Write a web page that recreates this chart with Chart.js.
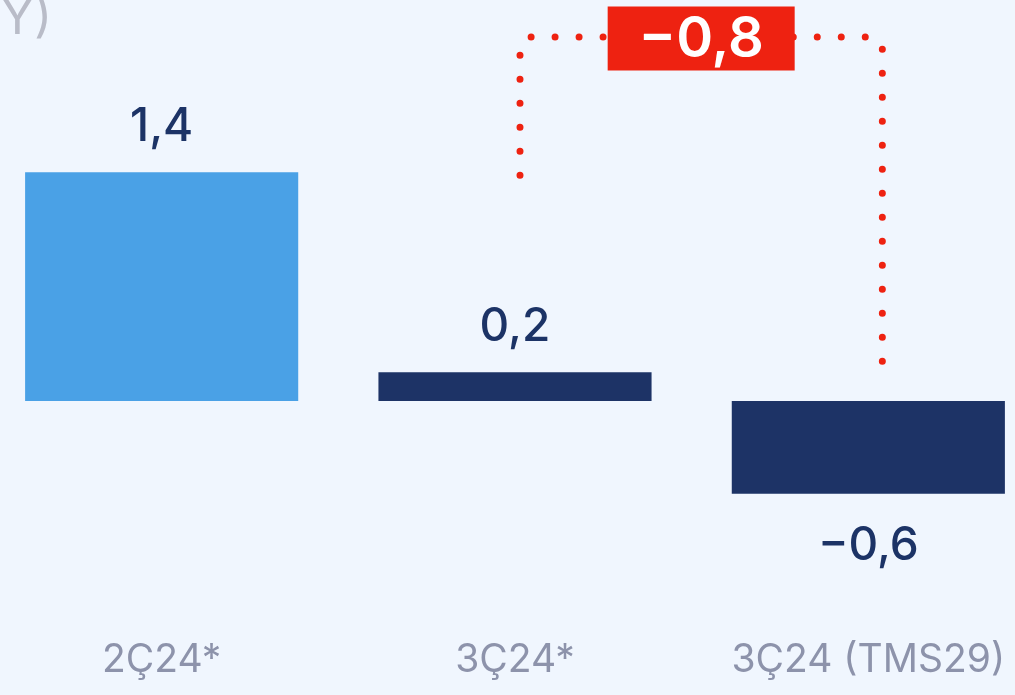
<!DOCTYPE html>
<html>
<head>
<meta charset="utf-8">
<script src="https://cdn.jsdelivr.net/npm/chart.js@4"></script>
<style>
    html, body { margin: 0; padding: 0; background: #f0f6fe; overflow: hidden; }
    #wrap { position: absolute; left: -15px; top: 0; width: 1060px; height: 695px; }
</style>
</head>
<body>
<div id="wrap"><canvas id="chart"></canvas></div>
<script>
const categories = ['2Ç24*', '3Ç24*', '3Ç24 (TMS29)'];
const values = [1.43, 0.18, -0.58];
const barColors = ['#4aa1e6', '#1d3366', '#1d3366'];
const titleText = '(%, YY)';

const OFFSET = 15; // canvas is shifted left by this much

function fmt(v) {
    return v.toFixed(1).replace('.', ',').replace('-', '−');
}

const labelsPlugin = {
    id: 'barLabels',
    afterDatasetsDraw(chart) {
        const ctx = chart.ctx;
        const meta = chart.getDatasetMeta(0);
        ctx.save();
        ctx.font = '500 46px Inter, "Noto Sans", sans-serif';
        ctx.fillStyle = '#1c3366';
        ctx.textAlign = 'center';
        ctx.textBaseline = 'middle';
        meta.data.forEach((bar, i) => {
            const v = values[i];
            const y = v >= 0 ? bar.y - 45 : bar.y + 52;
            ctx.fillText(fmt(v), bar.x, y);
        });

        // title remnant at top left
        ctx.font = '400 49px Inter, "Noto Sans", sans-serif';
        ctx.fillStyle = '#b9bcc8';
        ctx.textAlign = 'right';
        ctx.textBaseline = 'alphabetic';
        ctx.fillText(titleText, 52 + OFFSET, 34);
        ctx.restore();
    }
};

const bracketPlugin = {
    id: 'bracket',
    afterDatasetsDraw(chart) {
        const ctx = chart.ctx;
        const xs = chart.scales.x;
        const ys = chart.scales.y;
        const x1 = xs.getPixelForValue(1) + 5;
        const x2 = xs.getPixelForValue(2) + 14;
        const yLeft = ys.getPixelForValue(values[0]) + 3;
        const yRight = ys.getPixelForValue(values[1]) - 11;
        const top = 37;
        const r = 12;
        const cx = (x1 + x2) / 2;

        ctx.save();
        ctx.strokeStyle = '#ee2211';
        ctx.lineWidth = 7;
        ctx.lineCap = 'round';
        ctx.setLineDash([0, 24]);
        // left half, starting at the bottom end
        ctx.beginPath();
        ctx.moveTo(x1, yLeft);
        ctx.arcTo(x1, top, cx, top, r);
        ctx.lineTo(cx, top);
        ctx.stroke();
        // right half, starting at the bottom end
        ctx.beginPath();
        ctx.moveTo(x2, yRight);
        ctx.arcTo(x2, top, cx, top, r);
        ctx.lineTo(cx, top);
        ctx.stroke();
        ctx.setLineDash([]);

        // change box
        const diff = Number(values[2].toFixed(1)) - Number(values[1].toFixed(1));
        const w = 187, h = 64;
        ctx.fillStyle = '#ee2211';
        ctx.fillRect(cx - w / 2, top + 1.5 - h / 2, w, h);
        ctx.fillStyle = '#ffffff';
        ctx.font = '600 56px Inter, "Noto Sans", sans-serif';
        ctx.textAlign = 'center';
        ctx.textBaseline = 'middle';
        ctx.fillText(fmt(diff), cx, top + 3);
        ctx.restore();
    }
};

new Chart(document.getElementById('chart'), {
    type: 'bar',
    data: {
        labels: categories,
        datasets: [{
            data: values,
            backgroundColor: barColors,
            borderWidth: 0,
            barPercentage: 0.773,
            categoryPercentage: 1
        }]
    },
    options: {
        responsive: true,
        maintainAspectRatio: false,
        animation: false,
        layout: { padding: 0 },
        plugins: {
            legend: { display: false },
            tooltip: { enabled: false }
        },
        scales: {
            x: {
                grid: { display: false, drawTicks: false },
                border: { display: false },
                ticks: {
                    color: '#8d93ab',
                    font: { family: 'Inter, "Noto Sans", sans-serif', size: 39, weight: '400' },
                    padding: 17,
                    maxRotation: 0
                },
                afterFit(scale) { scale.height = 75; }
            },
            y: {
                display: false,
                min: -(219 / 160),
                max: 401 / 160
            }
        }
    },
    plugins: [labelsPlugin, bracketPlugin]
});
</script>
</body>
</html>
